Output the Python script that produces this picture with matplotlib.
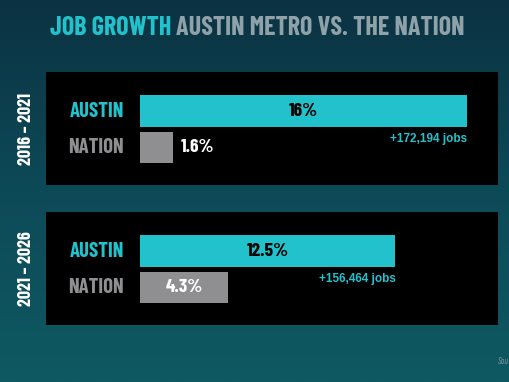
import numpy as np
import matplotlib
matplotlib.use("Agg")
import matplotlib.pyplot as plt
from matplotlib.colors import LinearSegmentedColormap

plt.rcParams['font.family'] = ['Barlow Condensed', 'DejaVu Sans']

# data
periods = ["2016 – 2021", "2021 – 2026"]
places = ["AUSTIN", "NATION"]
austin_pct = [16.0, 12.5]
nation_pct = [1.6, 4.3]
jobs_added = ["+172,194 jobs", "+156,464 jobs"]

cyan = "#22c2cd"
grey = "#8f8f92"
title_grey = "#8fa2aa"

fig = plt.figure(figsize=(5.1, 3.82), dpi=100)

# background gradient
bg = fig.add_axes([0, 0, 1, 1])
bg_cmap = LinearSegmentedColormap.from_list("bg", ["#0b3242", "#0d4a58", "#0e5962"])
grad = np.linspace(0, 1, 256).reshape(-1, 1)
bg.imshow(grad, aspect="auto", cmap=bg_cmap, extent=[0, 1, 0, 1], origin="upper")
bg.set_axis_off()

fig.text(171 / 510, 1 - 28 / 382, "JOB GROWTH", color=cyan, fontsize=18.8, fontweight="bold",
         ha="right", va="center")
fig.text(176 / 510, 1 - 28 / 382, "AUSTIN METRO VS. THE NATION", color=title_grey, fontsize=18.8,
         fontweight="bold", ha="left", va="center")

panel_bottoms = [1 - 185 / 382, 1 - 325 / 382]
for i in range(2):
    ax = fig.add_axes([46 / 510, panel_bottoms[i], 452 / 510, 113 / 382])
    ax.set_facecolor("black")
    ax.barh([1], [austin_pct[i]], height=0.87, color=cyan)
    ax.barh([0], [nation_pct[i]], height=0.85, color=grey)
    ax.set_xlim(-4.6, 17.52)
    ax.set_ylim(-1.03, 2.07)
    ax.set_xticks([])
    ax.set_yticks([])
    for s in ax.spines.values():
        s.set_visible(False)

    ax.text(-0.8, 1, places[0], color=cyan, fontsize=15, fontweight="bold",
            ha="right", va="center")
    ax.text(-0.8, 0, places[1], color=grey, fontsize=15, fontweight="bold",
            ha="right", va="center")

    ax.text(austin_pct[i] / 2, 1, f"{austin_pct[i]:g}%", color="black", fontsize=14,
            fontweight="bold", ha="center", va="center")
    if nation_pct[i] < 3:
        ax.text(nation_pct[i] + 0.4, 0, f"{nation_pct[i]:g}%", color="white",
                fontsize=14, fontweight="bold", ha="left", va="center")
    else:
        ax.text(nation_pct[i] / 2, 0, f"{nation_pct[i]:g}%", color="white",
                fontsize=14, fontweight="bold", ha="center", va="center")
    ax.text(austin_pct[i], 0.23, jobs_added[i], color=cyan, fontsize=8.5,
            fontweight="bold", family=["Liberation Sans", "DejaVu Sans"], ha="right", va="center")

    fig.text(26.5 / 510, panel_bottoms[i] + 113 / 382 / 2, periods[i], color="white",
             fontsize=13, fontweight="bold", rotation=90, ha="center", va="center")

fig.text(509 / 510, 1 - 362 / 382, "Sou", color="#7d98a0",
         fontsize=6.5, style="italic", ha="right", va="center")

fig.savefig("out.png", dpi=100)
